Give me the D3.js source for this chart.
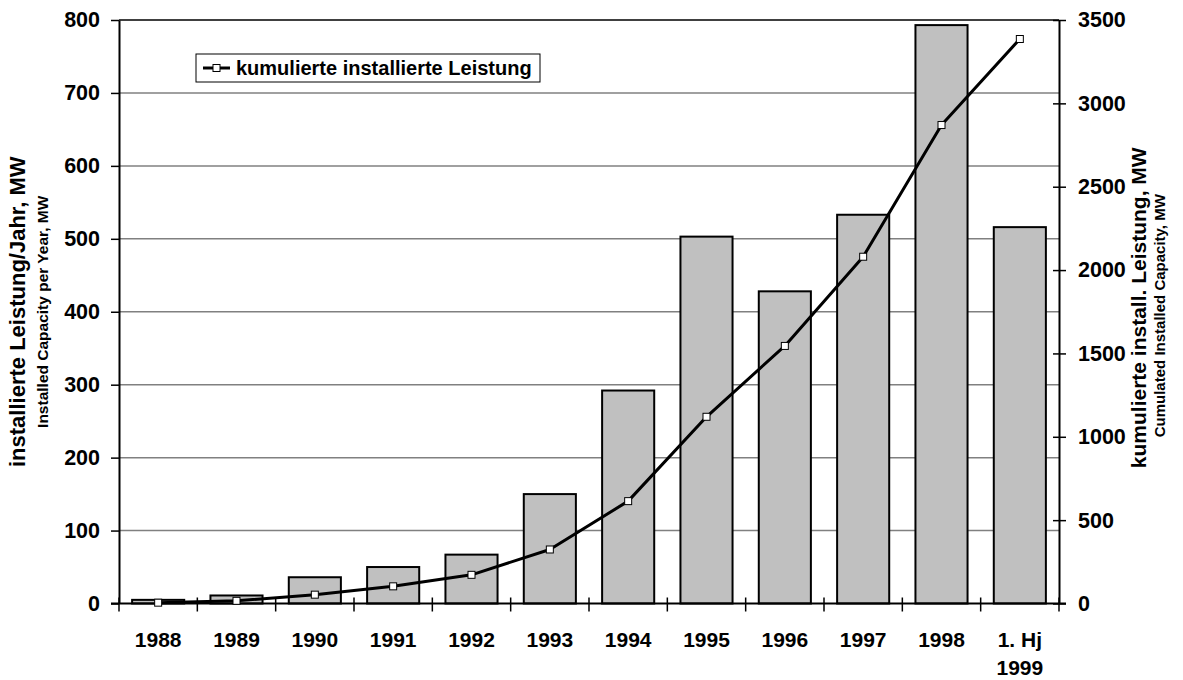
<!DOCTYPE html>
<html>
<head>
<meta charset="utf-8">
<script src="https://cdn.jsdelivr.net/npm/d3@7"></script>
<style>
  body { margin: 0; background: #fff; }
  svg { display: block; font-family: "Liberation Sans", Arial, sans-serif; font-weight: bold; }
</style>
</head>
<body>
<div id="chart"></div>
<script>
/**
 * Data
 */
const categories = ["1988", "1989", "1990", "1991", "1992", "1993", "1994", "1995", "1996", "1997", "1998", "1. Hj|1999"];
const yearly = [5, 11, 36, 50, 67, 150, 292, 503, 428, 533, 793, 516];
const cumulated = [5, 16, 53, 103, 172, 324, 614, 1120, 1545, 2080, 2870, 3386];
const leftTicks = [0, 100, 200, 300, 400, 500, 600, 700, 800];
const rightTicks = [0, 500, 1000, 1500, 2000, 2500, 3000, 3500];

const width = 1183, height = 680,
    plot = { left: 119, right: 1059, top: 20, bottom: 603.5 },
    font = "'Liberation Sans', Arial, sans-serif";

const svg = d3.select("#chart").append("svg")
    .attr("width", width)
    .attr("height", height);

// SCALES
const xScale = d3.scaleBand()
    .domain(categories)
    .range([plot.left, plot.right])
    .padding(0);

const yLeft = d3.scaleLinear().domain([0, 800]).range([plot.bottom, plot.top]);
const yRight = d3.scaleLinear().domain([0, 3500]).range([plot.bottom, plot.top]);

const barWidth = xScale.step() * 0.665;
const center = c => xScale(c) + xScale.bandwidth() / 2;

// gridlines
svg.append("g")
    .selectAll("line")
    .data(leftTicks.filter(d => d > 0 && d < 800))
    .join("line")
    .attr("x1", plot.left).attr("x2", plot.right)
    .attr("y1", d => yLeft(d)).attr("y2", d => yLeft(d))
    .attr("stroke", "#808080")
    .attr("stroke-width", 1.5);

// top border
svg.append("line")
    .attr("x1", plot.left).attr("x2", plot.right)
    .attr("y1", yLeft(800)).attr("y2", yLeft(800))
    .attr("stroke", "#000").attr("stroke-width", 1.5);

// bars
svg.append("g")
    .selectAll("rect")
    .data(yearly)
    .join("rect")
    .attr("x", (d, i) => center(categories[i]) - barWidth / 2)
    .attr("width", barWidth)
    .attr("y", d => yLeft(d))
    .attr("height", d => yLeft(0) - yLeft(d))
    .attr("fill", "#c0c0c0")
    .attr("stroke", "#000")
    .attr("stroke-width", 2);

// left axis
const leftAxis = svg.append("g")
    .attr("transform", `translate(${plot.left},0)`)
    .call(d3.axisLeft(yLeft).tickValues(leftTicks).tickFormat(d3.format("d"))
        .tickSize(8).tickPadding(11).tickSizeOuter(0));
leftAxis.select(".domain").attr("stroke-width", 2);
leftAxis.selectAll(".tick line").attr("stroke-width", 1.5);
leftAxis.selectAll("text").attr("font-size", 21.5).attr("fill", "#000")
    .attr("font-family", font).attr("font-weight", "bold");

// right axis
const rightAxis = svg.append("g")
    .attr("transform", `translate(${plot.right},0)`)
    .call(d3.axisRight(yRight).tickValues(rightTicks).tickFormat(d3.format("d"))
        .tickSize(7).tickPadding(12).tickSizeOuter(0));
rightAxis.select(".domain").attr("stroke-width", 2);
rightAxis.selectAll(".tick line").attr("x1", -6).attr("stroke-width", 1.5);
rightAxis.selectAll("text").attr("font-size", 21.5).attr("fill", "#000")
    .attr("font-family", font).attr("font-weight", "bold");

// bottom axis: line, boundary ticks, labels
svg.append("line")
    .attr("x1", plot.left - 8).attr("x2", plot.right + 7)
    .attr("y1", plot.bottom).attr("y2", plot.bottom)
    .attr("stroke", "#000").attr("stroke-width", 2);

const boundaries = categories.map(c => xScale(c)).concat([xScale.range()[1]]);
svg.append("g")
    .selectAll("line")
    .data(boundaries)
    .join("line")
    .attr("x1", d => d).attr("x2", d => d)
    .attr("y1", plot.bottom - 6).attr("y2", plot.bottom + 8)
    .attr("stroke", "#000").attr("stroke-width", 1.5);

const xLabels = svg.append("g")
    .selectAll("text")
    .data(categories)
    .join("text")
    .attr("x", d => center(d))
    .attr("y", 647)
    .attr("text-anchor", "middle")
    .attr("font-size", 21);
xLabels.selectAll("tspan")
    .data(d => d.split("|"))
    .join("tspan")
    .attr("x", function () { return d3.select(this.parentNode).attr("x"); })
    .attr("dy", (d, i) => i === 0 ? 0 : 28)
    .text(d => d);

// cumulated line
const lineFunc = d3.line()
    .x((d, i) => center(categories[i]))
    .y(d => yRight(d));

svg.append("path")
    .datum(cumulated)
    .attr("d", lineFunc)
    .attr("fill", "none")
    .attr("stroke", "#000")
    .attr("stroke-width", 3)
    .attr("stroke-linejoin", "round");

svg.append("g")
    .selectAll("rect")
    .data(cumulated)
    .join("rect")
    .attr("x", (d, i) => center(categories[i]) - 3.5)
    .attr("y", d => yRight(d) - 3.5)
    .attr("width", 7).attr("height", 7)
    .attr("fill", "#fff")
    .attr("stroke", "#000")
    .attr("stroke-width", 1);

// legend
const legend = svg.append("g").attr("transform", "translate(196,54)");
legend.append("rect")
    .attr("width", 344).attr("height", 28)
    .attr("fill", "#fff").attr("stroke", "#000").attr("stroke-width", 1);
legend.append("line")
    .attr("x1", 7).attr("x2", 34).attr("y1", 14).attr("y2", 14)
    .attr("stroke", "#000").attr("stroke-width", 3);
legend.append("rect")
    .attr("x", 17).attr("y", 10.5).attr("width", 7).attr("height", 7)
    .attr("fill", "#fff").attr("stroke", "#000");
legend.append("text")
    .attr("x", 40).attr("y", 21)
    .attr("font-size", 20)
    .text("kumulierte installierte Leistung");

// axis titles
const midY = (plot.top + plot.bottom) / 2;
svg.append("text")
    .attr("transform", `translate(25,${midY}) rotate(-90)`)
    .attr("text-anchor", "middle")
    .attr("font-size", 22)
    .text("installierte Leistung/Jahr, MW");
svg.append("text")
    .attr("transform", `translate(48,${midY}) rotate(-90)`)
    .attr("text-anchor", "middle")
    .attr("font-size", 15.5)
    .text("Installed Capacity per Year, MW");

svg.append("text")
    .attr("transform", `translate(1146,${midY - 4}) rotate(-90)`)
    .attr("text-anchor", "middle")
    .attr("font-size", 21)
    .text("kumulierte install. Leistung, MW");
svg.append("text")
    .attr("transform", `translate(1165,${midY + 4}) rotate(-90)`)
    .attr("text-anchor", "middle")
    .attr("font-size", 15)
    .text("Cumulated Installed Capacity, MW");
</script>
</body>
</html>
